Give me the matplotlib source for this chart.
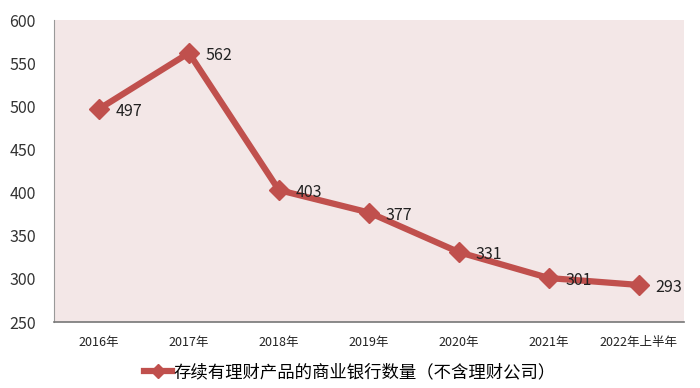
import matplotlib
matplotlib.use("Agg")
import matplotlib.pyplot as plt
from matplotlib.lines import Line2D

plt.rcParams['font.family'] = ['Noto Sans CJK SC', 'DejaVu Sans']

categories = ["2016年", "2017年", "2018年", "2019年", "2020年", "2021年", "2022年上半年"]
values = [497, 562, 403, 377, 331, 301, 293]
series_name = "存续有理财产品的商业银行数量（不含理财公司）"
yticks = [250, 300, 350, 400, 450, 500, 550, 600]

color = "#C0504D"
fig = plt.figure(figsize=(7, 3.88), dpi=100)
ax = fig.add_axes([0.077, 0.17, 0.9, 0.778])
ax.set_facecolor("#F3E7E7")
x = list(range(len(categories)))
ax.plot(x, values, color=color, lw=4.5, marker='D', ms=10, solid_joinstyle='miter')
for xi, v in zip(x, values):
    ax.annotate(str(v), (xi, v), xytext=(12, -2), textcoords='offset points',
                ha='left', va='center', fontsize=11.5, color='#222222')
ax.set_xlim(-0.5, len(categories) - 0.5)
ax.set_ylim(250, 600)
ax.set_yticks(yticks)
ax.set_yticklabels([str(t) for t in yticks], fontsize=11.5, color='#333333')
ax.set_xticks(x)
ax.set_xticklabels(categories, fontsize=9, color='#222222')
ax.tick_params(length=0, pad=10)
ax.tick_params(axis='y', pad=13)
for s in ['top', 'right']:
    ax.spines[s].set_visible(False)
ax.spines['left'].set_color('#999999')
ax.spines['bottom'].set_color('#777777')
ax.spines['bottom'].set_linewidth(1.2)

handle = Line2D([], [], color=color, lw=4.5, marker='D', ms=7)
fig.legend([handle], [series_name], loc='center', bbox_to_anchor=(0.5, 0.04),
           frameon=False, fontsize=12.5, handlelength=1.6, handletextpad=0.1)
fig.savefig("out.png", dpi=100)
